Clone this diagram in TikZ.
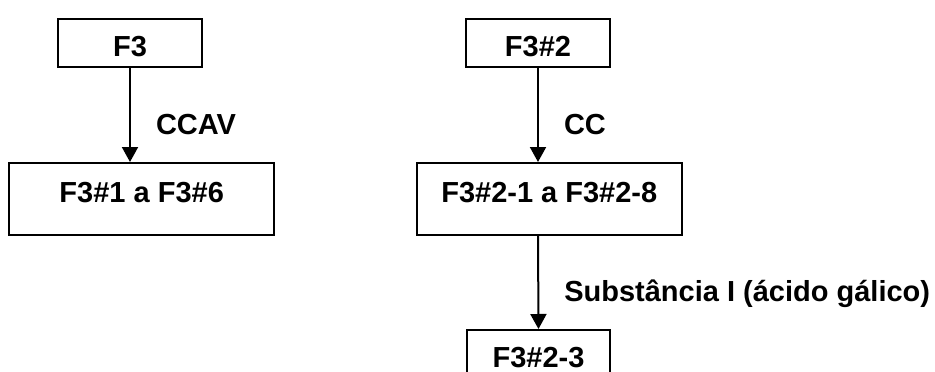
\documentclass[tikz,border=0pt]{standalone}
\usepackage{fontspec}
\setmainfont{Liberation Sans}
\usepackage{tikz}
\usetikzlibrary{arrows.meta,positioning}

\tikzset{
  caixa/.style={draw,line width=2pt,inner sep=0pt,
                font=\fontsize{29}{34}\selectfont\bfseries},
  baixa/.style={caixa,minimum height=48pt,text height=27pt,text depth=0pt},
  alta/.style={caixa,minimum height=72pt,text height=20pt,text depth=14pt},
  seta/.style={line width=2pt,-{Triangle[length=15pt,width=16pt]}},
  rotulo/.style={anchor=west,xshift=25pt,inner sep=0pt,text height=20pt,
                 text depth=0pt,font=\fontsize{29}{34}\selectfont\bfseries}
}

\begin{document}
\begin{tikzpicture}[x=1pt,y=-1pt]
    \useasboundingbox (0,0) rectangle (935,372);
    % coluna da esquerda
    \node[baixa,minimum width=144pt] (f3)  at (130,42.5) {F3};
    \node[alta,minimum width=265pt]  (f3a) at (141.7,199) {F3\#1 a F3\#6};
    \draw[seta] (f3.south) -- node[rotulo,pos=0.6] {CCAV} (f3.south |- f3a.north);
    % coluna da direita
    \node[baixa,minimum width=144pt] (f32)  at (538,42.5) {F3\#2};
    \node[alta,minimum width=265pt]  (f32a) at (549.3,199) {F3\#2-1 a F3\#2-8};
    \node[baixa,minimum width=143pt] (f323) at (538.5,354) {F3\#2-3};
    \draw[seta] (f32.south) -- node[rotulo,pos=0.6] {CC} (f32.south |- f32a.north);
    \draw[seta] (f32.south |- f32a.south) -- node[rotulo,pos=0.6]
        {Substância I (ácido gálico)} (f323.north);
\end{tikzpicture}
\end{document}
